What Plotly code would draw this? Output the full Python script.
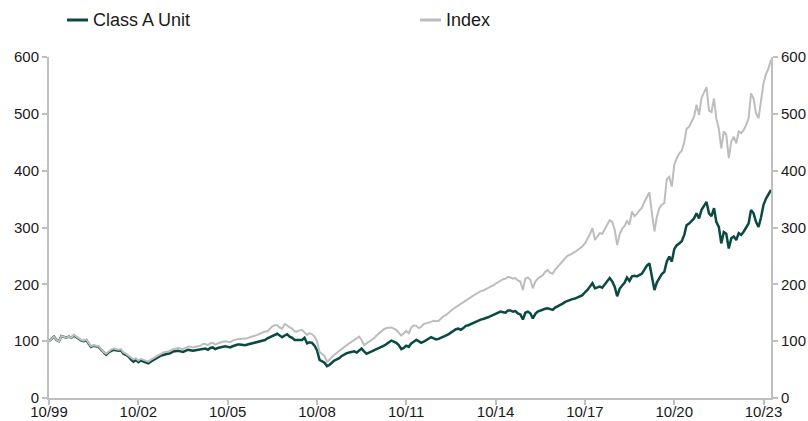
import pandas as pd
import plotly.graph_objects as go

class_a = [
    100, 104, 108, 102, 100, 109, 107, 106, 108, 106, 110, 107,
    104, 101, 100, 102, 95, 90, 92, 91, 90, 85, 80, 76,
    80, 83, 85, 84, 83, 84, 78, 76, 73, 68, 64, 67,
    63, 66, 64, 62, 61, 64, 67, 70, 72, 74, 76, 77,
    78, 79, 82, 83, 83, 82, 81, 83, 85, 84, 83, 84, 85,
    85, 87, 87, 85, 88, 89, 86, 88, 89, 90, 91, 90,
    89, 91, 93, 94, 94, 93, 93, 94, 95, 96, 98, 98,
    100, 101, 102, 105, 107, 108, 110, 113, 110, 107, 110, 112,
    108, 106, 102, 102, 103, 102, 106, 96, 98, 97, 92, 84,
    67, 65, 62, 56, 58, 62, 66, 68, 70, 74, 77, 79,
    80, 81, 82, 80, 84, 87, 82, 78, 80, 82, 83, 85,
    87, 90, 92, 95, 98, 101, 99, 97, 93, 86, 88, 92,
    90, 96, 99, 102, 100, 97, 99, 102, 104, 107, 105, 103,
    104, 106, 108, 109, 112, 115, 118, 121, 122, 120, 123, 127,
    128, 130, 132, 135, 137, 138, 139, 140, 142, 144, 146, 149,
    150, 152, 151, 150, 154, 154, 152, 153, 149, 147, 138, 150,
    152, 149, 140, 148, 152, 154, 155, 157, 158, 156, 155, 159,
    161, 164, 166, 169, 171, 173, 174, 175, 177, 179, 181, 186,
    190, 196, 202, 193, 195, 196, 194, 200, 207, 211, 205, 196,
    179, 192, 198, 203, 212, 206, 214, 215, 214, 216, 219, 226,
    233, 237, 213, 190, 203, 212, 218, 222, 240, 249, 240, 262,
    269, 272, 276, 287, 304, 307, 312, 316, 325, 316, 331, 338,
    345, 325, 320, 334, 310, 301, 272, 292, 289, 263, 281, 284,
    278, 290, 287, 293, 299, 307, 331, 325, 310, 301, 318, 340,
    351, 358, 366,
]

index_vals = [
    100, 104, 108, 102, 100, 109, 107, 106, 108, 106, 111, 108,
    105, 102, 101, 103, 96, 91, 93, 92, 91, 86, 81, 78,
    82, 85, 87, 86, 85, 86, 80, 78, 75, 71, 68, 70,
    66, 69, 67, 65, 64, 67, 70, 73, 75, 77, 80, 81,
    82, 83, 86, 87, 88, 87, 86, 88, 90, 90, 89, 90, 91,
    92, 95, 95, 93, 96, 97, 94, 96, 98, 99, 100, 99,
    98, 101, 103, 104, 104, 104, 104, 105, 107, 108, 110, 111,
    113, 115, 117, 117, 122, 126, 128, 128, 124, 122, 130, 128,
    124, 122, 117, 117, 119, 120, 115, 111, 114, 112, 108, 100,
    81, 78, 74, 64, 67, 72, 76, 79, 83, 86, 90, 93,
    96, 99, 103, 105, 108, 102, 93, 96, 99, 102, 105, 110,
    114, 117, 121, 123, 124, 124, 122, 120, 115, 110, 114, 118,
    114, 124, 128, 127, 123, 125, 130, 131, 133, 134, 136, 135,
    136, 140, 144, 146, 150, 154, 157, 160, 163, 165, 169, 172,
    175, 177, 180, 183, 186, 188, 189, 191, 193, 196, 198, 201,
    204, 207, 209, 210, 213, 212, 210, 211, 207, 205, 190, 210,
    212, 208, 193, 205, 210, 213, 216, 222, 225, 220, 219, 226,
    231, 236, 242, 246, 250, 252, 254, 257, 260, 263, 267, 272,
    279, 288, 299, 278, 284, 290, 289, 296, 305, 313, 310, 296,
    269, 288, 298, 303, 312, 305, 328, 320, 324, 330, 335, 345,
    355, 362, 325, 293, 318, 334, 340, 343, 385, 389, 372, 410,
    422, 430, 435, 450, 474, 477, 486, 495, 516, 498, 528, 537,
    547, 506, 503, 527, 492, 474, 439, 469, 463, 422, 451, 460,
    448, 469, 466, 472, 480, 492, 536, 527, 501, 492, 520, 554,
    570, 580, 595,
]

tick_years = [1999, 2002, 2005, 2008, 2011, 2014, 2017, 2020, 2023]
tick_labels = ["10/99", "10/02", "10/05", "10/08", "10/11", "10/14", "10/17", "10/20", "10/23"]
y_ticks = [0, 100, 200, 300, 400, 500, 600]

dates = pd.date_range("1999-10-01", periods=len(class_a), freq="MS")
dates_i = pd.date_range("1999-10-01", periods=len(index_vals), freq="MS")
tick_dates = [pd.Timestamp(year=y, month=10, day=1) for y in tick_years]

GREEN = "#0b4a43"
GRAY = "#bdbdbd"
AX = "#bfbfbf"

fig = go.Figure()
fig.add_trace(go.Scatter(x=dates_i, y=index_vals, mode="lines", name="Index",
                         line=dict(color=GRAY, width=2), yaxis="y2"))
fig.add_trace(go.Scatter(x=dates, y=class_a, mode="lines", name="Class A Unit",
                         line=dict(color=GREEN, width=2.5)))

FAM = "Liberation Sans, Arial, sans-serif"
font = dict(family=FAM, size=15, color="#1a1a1a")

axis_common = dict(
    showgrid=False, zeroline=False,
    showline=True, linecolor=AX, linewidth=2,
    ticks="outside", ticklen=5, tickcolor=AX, tickwidth=1.5,
    tickfont=font, automargin=False,
)

fig.update_layout(
    width=808, height=421,
    margin=dict(l=49, r=37, t=57, b=23),
    paper_bgcolor="white", plot_bgcolor="white",
    showlegend=False,
    font=font,
    xaxis=dict(
        range=[dates[0], dates[-1]],
        tickmode="array", tickvals=tick_dates, ticktext=tick_labels,
        ticklabelstandoff=-6,
        **axis_common,
    ),
    yaxis=dict(range=[0, 600], tickvals=y_ticks, **axis_common),
    yaxis2=dict(range=[0, 600], tickvals=y_ticks, overlaying="y", side="right",
                **axis_common),
)

# manual legend
legend_items = [("Class A Unit", GREEN, 67), ("Index", GRAY, 420)]
pw = 808 - 49 - 37
ph = 421 - 57 - 23
for name, col, px in legend_items:
    x0 = (px - 49) / pw
    x1 = (px + 21 - 49) / pw
    yy = (398 - 20) / ph
    fig.add_shape(type="line", xref="paper", yref="paper", x0=x0, x1=x1, y0=yy, y1=yy,
                  line=dict(color=col, width=3))
    fig.add_annotation(xref="paper", yref="paper", x=(px + 24 - 49) / pw, y=yy,
                       text=name, showarrow=False, xanchor="left", yanchor="middle",
                       font=dict(family=FAM, size=18, color="#1a1a1a"))

fig.write_html(
    "out.html",
    config={"displayModeBar": False},
    post_script="document.body.style.margin='0';document.body.style.overflow='hidden';",
)
